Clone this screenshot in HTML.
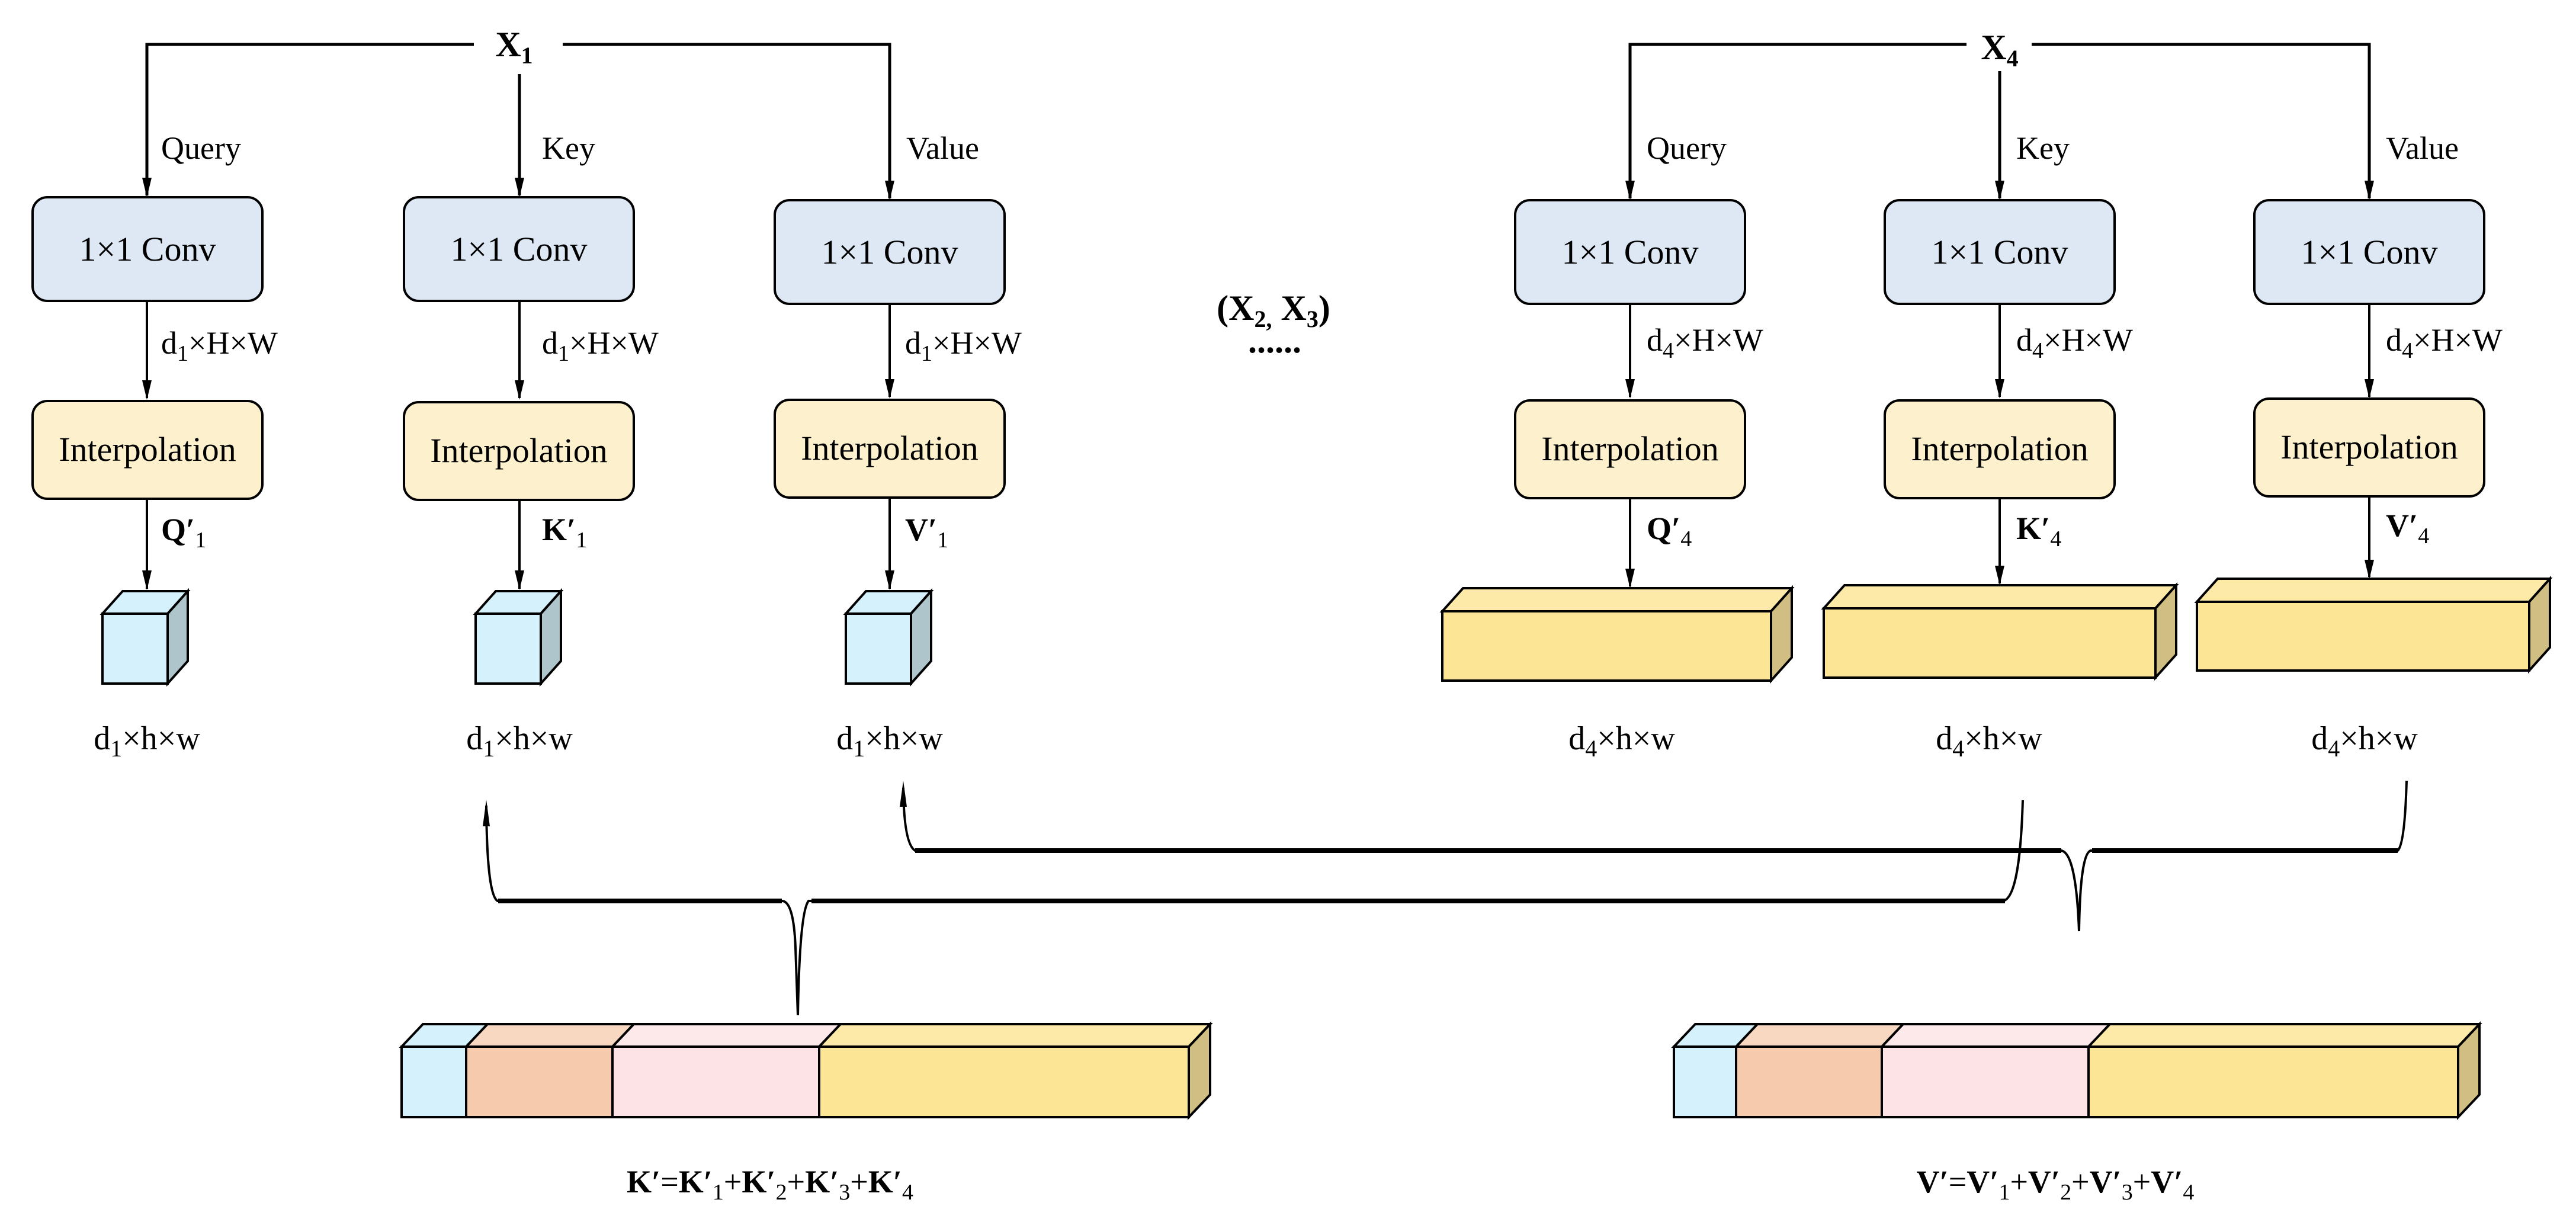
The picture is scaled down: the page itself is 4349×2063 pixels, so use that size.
<!DOCTYPE html>
<html><head><meta charset="utf-8"><style>
html,body{margin:0;padding:0;background:#fff}
svg{display:block}
svg text{font-family:"Liberation Serif","Times New Roman",serif;fill:#000}
</style></head><body>
<svg width="4349" height="2063" viewBox="0 0 4349 2063" xmlns="http://www.w3.org/2000/svg" font-family="Liberation Serif, serif">
<g stroke="#000" stroke-width="5" fill="none">
<path d="M800,75 H248 V330"/>
<path d="M950,75 H1502 V335"/>
<path d="M877,125 V330"/>
<path d="M3320,75 H2752 V335"/>
<path d="M3430,75 H4000 V335"/>
<path d="M3376,120 V335"/>
</g>
<g stroke="#000" stroke-width="4" fill="none">
<line x1="248" y1="508" x2="248" y2="672"/>
<line x1="877" y1="508" x2="877" y2="672"/>
<line x1="1502" y1="513" x2="1502" y2="670"/>
<line x1="2752" y1="513" x2="2752" y2="670"/>
<line x1="3376" y1="513" x2="3376" y2="670"/>
<line x1="4000" y1="513" x2="4000" y2="670"/>
<line x1="248" y1="842" x2="248" y2="994"/>
<line x1="877" y1="844" x2="877" y2="994"/>
<line x1="1502" y1="840" x2="1502" y2="994"/>
<line x1="2752" y1="841" x2="2752" y2="990"/>
<line x1="3376" y1="841" x2="3376" y2="985"/>
<line x1="4000" y1="838" x2="4000" y2="974"/>
</g>
<g fill="#000">
<path d="M240,300 L256,300 L248,333 Z"/><path d="M869,300 L885,300 L877,333 Z"/><path d="M1494,305 L1510,305 L1502,338 Z"/>
<path d="M2744,305 L2760,305 L2752,338 Z"/><path d="M3368,305 L3384,305 L3376,338 Z"/><path d="M3992,305 L4008,305 L4000,338 Z"/>
<path d="M240,642 L256,642 L248,675 Z"/><path d="M869,642 L885,642 L877,675 Z"/><path d="M1494,640 L1510,640 L1502,673 Z"/>
<path d="M2744,640 L2760,640 L2752,673 Z"/><path d="M3368,640 L3384,640 L3376,673 Z"/><path d="M3992,640 L4008,640 L4000,673 Z"/>
<path d="M240,963 L256,963 L248,996 Z"/><path d="M869,963 L885,963 L877,996 Z"/><path d="M1494,963 L1510,963 L1502,996 Z"/>
<path d="M2744,960 L2760,960 L2752,993 Z"/><path d="M3368,955 L3384,955 L3376,988 Z"/><path d="M3992,945 L4008,945 L4000,978 Z"/>
</g>
<g fill="#dde8f4" stroke="#000" stroke-width="4">
<rect x="55" y="333" width="388" height="175" rx="25"/>
<rect x="682" y="333" width="388" height="175" rx="25"/>
<rect x="1308" y="338" width="388" height="175" rx="25"/>
<rect x="2558" y="338" width="388" height="175" rx="25"/>
<rect x="3182" y="338" width="388" height="175" rx="25"/>
<rect x="3806" y="338" width="388" height="175" rx="25"/>
</g>
<g fill="#fdf0cc" stroke="#000" stroke-width="4">
<rect x="55" y="677" width="388" height="165" rx="25"/>
<rect x="682" y="679" width="388" height="165" rx="25"/>
<rect x="1308" y="675" width="388" height="165" rx="25"/>
<rect x="2558" y="676" width="388" height="165" rx="25"/>
<rect x="3182" y="676" width="388" height="165" rx="25"/>
<rect x="3806" y="673" width="388" height="165" rx="25"/>
</g>
<g font-size="58" text-anchor="middle">
<text x="249" y="440">1×1 Conv</text><text x="876" y="440">1×1 Conv</text><text x="1502" y="445">1×1 Conv</text>
<text x="2752" y="445">1×1 Conv</text><text x="3376" y="445">1×1 Conv</text><text x="4000" y="445">1×1 Conv</text>
<text x="249" y="778">Interpolation</text><text x="876" y="780">Interpolation</text><text x="1502" y="776">Interpolation</text>
<text x="2752" y="777">Interpolation</text><text x="3376" y="777">Interpolation</text><text x="4000" y="774">Interpolation</text>
</g>
<g font-size="54">
<text x="272" y="268">Query</text><text x="915" y="268">Key</text><text x="1530" y="268">Value</text>
<text x="2780" y="268">Query</text><text x="3404" y="268">Key</text><text x="4028" y="268">Value</text>
<text x="272" y="597">d<tspan font-size="38" dy="12">1</tspan><tspan dy="-12">×H×W</tspan></text>
<text x="915" y="597">d<tspan font-size="38" dy="12">1</tspan><tspan dy="-12">×H×W</tspan></text>
<text x="1528" y="597">d<tspan font-size="38" dy="12">1</tspan><tspan dy="-12">×H×W</tspan></text>
<text x="2780" y="592">d<tspan font-size="38" dy="12">4</tspan><tspan dy="-12">×H×W</tspan></text>
<text x="3404" y="592">d<tspan font-size="38" dy="12">4</tspan><tspan dy="-12">×H×W</tspan></text>
<text x="4028" y="592">d<tspan font-size="38" dy="12">4</tspan><tspan dy="-12">×H×W</tspan></text>
<text x="272" y="912" font-weight="bold">Q′<tspan font-weight="normal" font-size="38" dy="12">1</tspan></text>
<text x="915" y="912" font-weight="bold">K′<tspan font-weight="normal" font-size="38" dy="12">1</tspan></text>
<text x="1528" y="912" font-weight="bold">V′<tspan font-weight="normal" font-size="38" dy="12">1</tspan></text>
<text x="2780" y="910" font-weight="bold">Q′<tspan font-weight="normal" font-size="38" dy="12">4</tspan></text>
<text x="3404" y="910" font-weight="bold">K′<tspan font-weight="normal" font-size="38" dy="12">4</tspan></text>
<text x="4028" y="905" font-weight="bold">V′<tspan font-weight="normal" font-size="38" dy="12">4</tspan></text>
</g>
<g font-size="56" text-anchor="middle">
<text x="248" y="1265">d<tspan font-size="40" dy="12">1</tspan><tspan dy="-12">×h×w</tspan></text>
<text x="877" y="1265">d<tspan font-size="40" dy="12">1</tspan><tspan dy="-12">×h×w</tspan></text>
<text x="1502" y="1265">d<tspan font-size="40" dy="12">1</tspan><tspan dy="-12">×h×w</tspan></text>
<text x="2738" y="1265">d<tspan font-size="40" dy="12">4</tspan><tspan dy="-12">×h×w</tspan></text>
<text x="3358" y="1265">d<tspan font-size="40" dy="12">4</tspan><tspan dy="-12">×h×w</tspan></text>
<text x="3992" y="1265">d<tspan font-size="40" dy="12">4</tspan><tspan dy="-12">×h×w</tspan></text>
</g>
<g font-size="60" font-weight="bold" text-anchor="middle">
<text x="868" y="95">X<tspan font-size="40" dy="12">1</tspan></text>
<text x="3376" y="100">X<tspan font-size="40" dy="12">4</tspan></text>
<text x="2150" y="540">(X<tspan font-size="40" dy="12">2,</tspan><tspan dy="-12"> X</tspan><tspan font-size="40" dy="12">3</tspan><tspan dy="-12">)</tspan></text>
<text x="2152" y="595">......</text>
</g>
<g stroke="#000" stroke-width="4">
<g fill="#d4f1fc">
<path d="M173,1036 L207,998 L317,998 L283,1036 Z"/>
<path d="M283,1036 L317,998 L317,1116 L283,1154 Z" fill="#aec5cc"/>
<rect x="173" y="1036" width="110" height="118"/>
<path d="M803,1036 L837,998 L947,998 L913,1036 Z"/>
<path d="M913,1036 L947,998 L947,1116 L913,1154 Z" fill="#aec5cc"/>
<rect x="803" y="1036" width="110" height="118"/>
<path d="M1428,1036 L1462,998 L1572,998 L1538,1036 Z"/>
<path d="M1538,1036 L1572,998 L1572,1116 L1538,1154 Z" fill="#aec5cc"/>
<rect x="1428" y="1036" width="110" height="118"/>
</g>
<g fill="#fde596">
<path d="M2435,1032 L2470,993 L3025,993 L2990,1032 Z" fill="#fde9a8"/>
<path d="M2990,1032 L3025,993 L3025,1110 L2990,1149 Z" fill="#d1be82"/>
<rect x="2435" y="1032" width="555" height="117"/>
<path d="M3079,1027 L3114,988 L3674,988 L3639,1027 Z" fill="#fde9a8"/>
<path d="M3639,1027 L3674,988 L3674,1105 L3639,1144 Z" fill="#d1be82"/>
<rect x="3079" y="1027" width="560" height="117"/>
<path d="M3709,1016 L3744,977 L4305,977 L4270,1016 Z" fill="#fde9a8"/>
<path d="M4270,1016 L4305,977 L4305,1093 L4270,1132 Z" fill="#d1be82"/>
<rect x="3709" y="1016" width="561" height="116"/>
</g>
</g>
<g stroke="#000" fill="none">
<path d="M821,1360 Q822,1510 840,1521 H1320 Q1340,1521 1343,1600 Q1345,1650 1347,1714" stroke-width="4"/>
<path d="M1347,1714 Q1350,1540 1365,1521 H3380 Q3410,1521 3415,1351" stroke-width="4"/>
<line x1="841" y1="1521" x2="1320" y2="1521" stroke-width="8"/>
<line x1="1370" y1="1521" x2="3385" y2="1521" stroke-width="8"/>
<path d="M1525,1330 Q1526,1425 1545,1436 H3480 Q3505,1440 3510,1572 Q3512,1440 3530,1436 H4048 Q4060,1425 4063,1318" stroke-width="4"/>
<line x1="1545" y1="1436" x2="3480" y2="1436" stroke-width="8"/>
<line x1="3532" y1="1436" x2="4048" y2="1436" stroke-width="8"/>
</g>
<path d="M815,1395 L827,1395 L821,1350 Z" fill="#000"/>
<path d="M1519,1362 L1531,1362 L1525,1318 Z" fill="#000"/>
<g stroke="#000" stroke-width="4">
<path d="M678,1767 L714,1729 L823,1729 L787,1767 Z" fill="#d4f1fc"/>
<path d="M787,1767 L823,1729 L1070,1729 L1034,1767 Z" fill="#f8d8c0"/>
<path d="M1034,1767 L1070,1729 L1419,1729 L1383,1767 Z" fill="#fde8ea"/>
<path d="M1383,1767 L1419,1729 L2043,1729 L2007,1767 Z" fill="#fde9a8"/>
<path d="M2007,1767 L2043,1729 L2043,1848 L2007,1886 Z" fill="#d1be82"/>
<rect x="678" y="1767" width="109" height="119" fill="#d4f1fc"/>
<rect x="787" y="1767" width="247" height="119" fill="#f6cbad"/>
<rect x="1034" y="1767" width="349" height="119" fill="#fde3e6"/>
<rect x="1383" y="1767" width="624" height="119" fill="#fde596"/>
<path d="M2826,1767 L2862,1729 L2967,1729 L2931,1767 Z" fill="#d4f1fc"/>
<path d="M2931,1767 L2967,1729 L3213,1729 L3177,1767 Z" fill="#f8d8c0"/>
<path d="M3177,1767 L3213,1729 L3562,1729 L3526,1767 Z" fill="#fde8ea"/>
<path d="M3526,1767 L3562,1729 L4186,1729 L4150,1767 Z" fill="#fde9a8"/>
<path d="M4150,1767 L4186,1729 L4186,1848 L4150,1886 Z" fill="#d1be82"/>
<rect x="2826" y="1767" width="105" height="119" fill="#d4f1fc"/>
<rect x="2931" y="1767" width="246" height="119" fill="#f6cbad"/>
<rect x="3177" y="1767" width="349" height="119" fill="#fde3e6"/>
<rect x="3526" y="1767" width="624" height="119" fill="#fde596"/>
</g>
<g font-size="54" text-anchor="middle">
<text x="1300" y="2013"><tspan font-weight="bold">K′</tspan>=<tspan font-weight="bold">K′</tspan><tspan font-size="38" dy="12">1</tspan><tspan dy="-12">+</tspan><tspan font-weight="bold">K′</tspan><tspan font-size="38" dy="12">2</tspan><tspan dy="-12">+</tspan><tspan font-weight="bold">K′</tspan><tspan font-size="38" dy="12">3</tspan><tspan dy="-12">+</tspan><tspan font-weight="bold">K′</tspan><tspan font-size="38" dy="12">4</tspan></text>
<text x="3470" y="2013"><tspan font-weight="bold">V′</tspan>=<tspan font-weight="bold">V′</tspan><tspan font-size="38" dy="12">1</tspan><tspan dy="-12">+</tspan><tspan font-weight="bold">V′</tspan><tspan font-size="38" dy="12">2</tspan><tspan dy="-12">+</tspan><tspan font-weight="bold">V′</tspan><tspan font-size="38" dy="12">3</tspan><tspan dy="-12">+</tspan><tspan font-weight="bold">V′</tspan><tspan font-size="38" dy="12">4</tspan></text>
</g>
</svg>
</body></html>
